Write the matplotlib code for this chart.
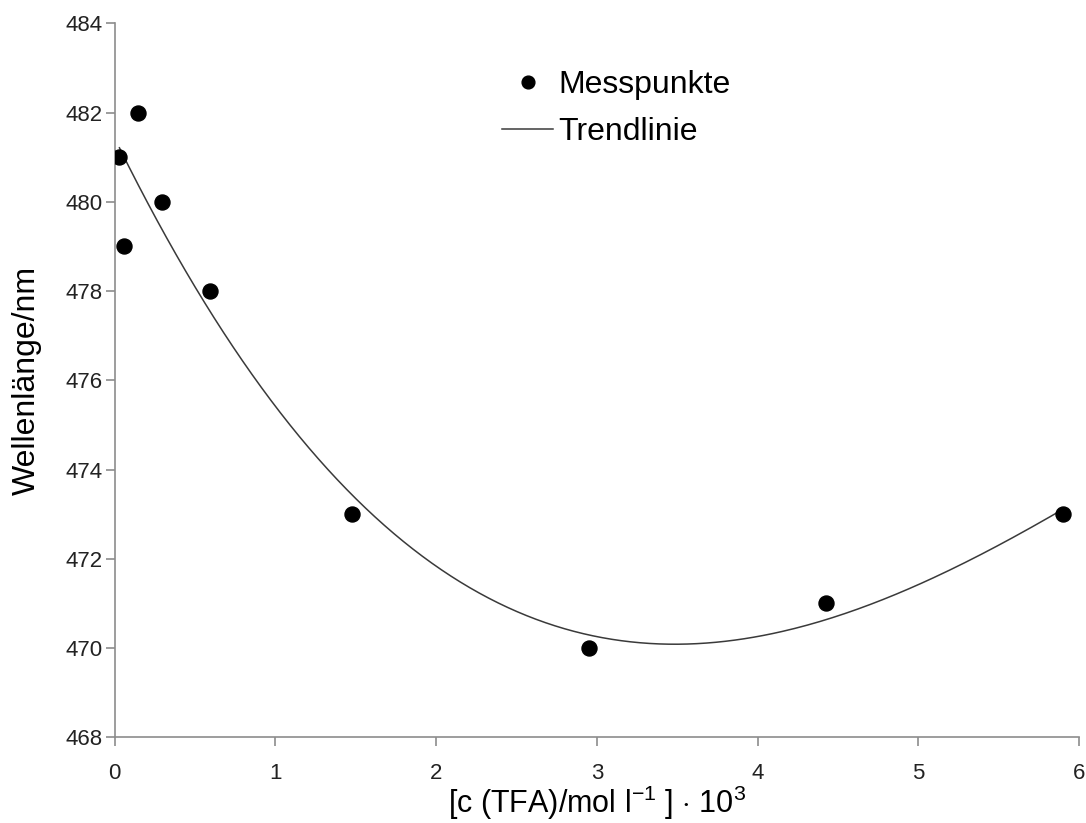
import numpy as np
import matplotlib
matplotlib.use("Agg")
import matplotlib.pyplot as plt

plt.rcParams["font.family"] = ["Liberation Sans", "DejaVu Sans"]
plt.rcParams["mathtext.fontset"] = "custom"
plt.rcParams["mathtext.rm"] = "Liberation Sans"
plt.rcParams["mathtext.it"] = "Liberation Sans:italic"

# concentration c(TFA) * 10^3 in mol/l, wavelength in nm
conc = [0.0295, 0.059, 0.1475, 0.295, 0.59, 1.475, 2.95, 4.425, 5.9]
wavelength = [481, 479, 482, 480, 478, 473, 470, 471, 473]

x_ticks = [0, 1, 2, 3, 4, 5, 6]
y_ticks = [468, 470, 472, 474, 476, 478, 480, 482, 484]

# polynomial trend line (like the Excel trendline)
coef = np.polyfit(conc, wavelength, 3)
xs = np.linspace(min(conc), max(conc), 300)
ys = np.polyval(coef, xs)

fig = plt.figure(figsize=(10.86, 8.23), dpi=100)
ax = fig.add_axes([0.1056, 0.1041, 0.8880, 0.8676])

ax.plot(xs, ys, color="#3a3a3a", lw=1.1, label="Trendlinie", zorder=2)
ax.plot(conc, wavelength, "o", color="black", ms=10.8, label="Messpunkte",
        linestyle="none", zorder=3)

ax.set_xlim(0, 6)
ax.set_ylim(468, 484)
ax.set_xticks(x_ticks)
ax.set_yticks(y_ticks)

for side in ["top", "right"]:
    ax.spines[side].set_visible(False)
for side in ["left", "bottom"]:
    ax.spines[side].set_color("#8c8c8c")
    ax.spines[side].set_linewidth(1.2)
ax.tick_params(direction="out", length=6.5, width=1.2, color="#8c8c8c",
               labelsize=16, labelcolor="#222222")
ax.tick_params(axis="x", pad=12)
ax.tick_params(axis="y", pad=2)

ax.set_xlabel(r"[c (TFA)/mol l$^{-1}$ ] $\cdot$ 10$^{3}$", fontsize=22, labelpad=0)
ax.set_ylabel("Wellenlänge/nm", fontsize=23, labelpad=17)

handles, labels = ax.get_legend_handles_labels()
ax.legend(handles[::-1], labels[::-1], loc="upper left",
          bbox_to_anchor=(502 / 1086, 1 - 70 / 823), bbox_transform=fig.transFigure,
          frameon=False, fontsize=23, handlelength=1.6, handletextpad=0.15,
          labelspacing=0.53, borderpad=0, borderaxespad=0, markerscale=0.85)

fig.savefig("out.png", dpi=100)
